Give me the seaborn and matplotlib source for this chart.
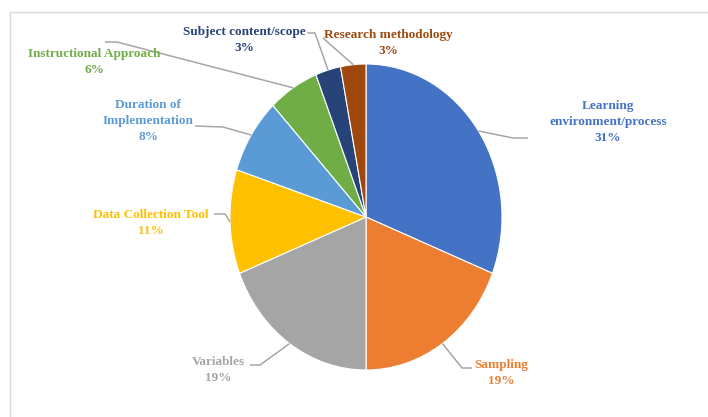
import matplotlib
matplotlib.use("Agg")
import matplotlib.pyplot as plt
import seaborn as sns
import numpy as np

categories = [
    "Learning\nenvironment/process",
    "Sampling",
    "Variables",
    "Data Collection Tool",
    "Duration of\nImplementation",
    "Instructional Approach",
    "Subject content/scope",
    "Research methodology",
]
shares = [31, 19, 19, 11, 8, 6, 3, 3]
colors = ["#4472C4", "#ED7D31", "#A5A5A5", "#FFC000",
          "#5B9BD5", "#70AD47", "#264478", "#9E480E"]

sns.set_style("white")
plt.rcParams["font.family"] = ["Liberation Serif", "DejaVu Serif"]

W, H = 708, 417
CX, CY, RX, RY = 366, 217, 136, 153


def px(x, y):
    """Pixel position (from top-left) to pie data coordinates."""
    return (x - CX) / RX, (CY - y) / RY


fig = plt.figure(figsize=(W / 100, H / 100), dpi=100)
ax = fig.add_axes([0, 0, 1, 1])

wedges, _ = ax.pie(shares, colors=sns.color_palette(colors), startangle=90,
                   counterclock=False, radius=1.0,
                   wedgeprops=dict(linewidth=0.8, edgecolor="white"))
ax.set_aspect("auto")
ax.set_xlim(-CX / RX, (W - CX) / RX)
ax.set_ylim(-(H - CY) / RY, CY / RY)
ax.axis("off")

# open frame: top and left edges of the chart area
x0, y0 = px(10, 12)
x1, _ = px(730, 12)
_, yb = px(10, 430)
ax.plot([x1, x0, x0], [y0, y0, yb], color="#D9D9D9",
        lw=1.0, clip_on=False, zorder=0)

# label block centres and leader-line elbow/end points (pixels)
label_pos = [(608, 122), (501, 373), (218, 370), (151, 223),
             (148, 121), (94, 62), (244, 40), (388, 43)]
elbows = [(513, 138), (462, 368), (260, 365), (225, 214),
          (223, 127), (117, 42), (315, 33), (323, 38)]
ends = [(528, 138), (472, 368), (250, 365), (214, 214),
        (195, 126), (105, 42), (307, 33), (323, 38)]

for w, name, val, col, lp, el, en in zip(wedges, categories, shares, colors,
                                         label_pos, elbows, ends):
    ang = np.deg2rad((w.theta1 + w.theta2) / 2)
    sx, sy = np.cos(ang), np.sin(ang)
    ex, ey = px(*el)
    nx, ny = px(*en)
    ax.plot([sx, ex, nx], [sy, ey, ny], color="#A6A6A6", lw=1.1,
            solid_capstyle="butt", zorder=3)
    tx, ty = px(*lp)
    ax.text(tx, ty, f"{name}\n{val}%", ha="center", va="center",
            color=col, fontsize=9.5, fontweight="bold", linespacing=1.45,
            zorder=4)

fig.savefig("out.png", dpi=100, facecolor="white")
